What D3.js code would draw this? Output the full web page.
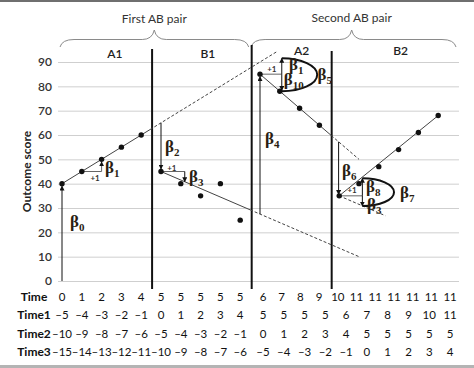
<!DOCTYPE html>
<html>
<head>
<meta charset="utf-8">
<script src="https://cdn.jsdelivr.net/npm/d3@7"></script>
<style>
  body { margin: 0; background: #fff; }
  text { font-family: Lato, "Open Sans", sans-serif; }
  .beta { font-family: "Liberation Serif", serif; font-weight: bold; fill: #2a1d12; }
</style>
</head>
<body>
<svg id="canvas"></svg>
<script>
const WIDTH = 474;
const HEIGHT = 368;

// data
const yTicks = [0, 10, 20, 30, 40, 50, 60, 70, 80, 90];
const pairLabels = ["First AB pair", "Second AB pair"];
const phaseLabels = ["A1", "B1", "A2", "B2"];
const a1Values = [40, 45, 50, 55, 60]; // obs 0-4
const b1Values = [45, 40, 35, 40, 25]; // obs 5-9
const a2Values = [85, 78, 71, 64]; // obs 10-13
const b2Values = [35, 40, 47, 54, 61, 68]; // obs 14-19
const timeRow = [0, 1, 2, 3, 4, 5, 5, 5, 5, 5, 6, 7, 8, 9, 10, 11, 11, 11, 11, 11, 11];
const time1Row = [-5, -4, -3, -2, -1, 0, 1, 2, 3, 4, 5, 5, 5, 5, 6, 7, 8, 9, 10, 11];
const time2Row = [-10, -9, -8, -7, -6, -5, -4, -3, -2, -1, 0, 1, 2, 3, 4, 5, 5, 5, 5, 5];
const time3Row = [-15, -14, -13, -12, -11, -10, -9, -8, -7, -6, -5, -4, -3, -2, -1, 0, 1, 2, 3, 4];
const rowNames = ["Time", "Time1", "Time2", "Time3"];

const canvas = d3.select("#canvas").attr("width", WIDTH).attr("height", HEIGHT);

const x = d3.scaleLinear().domain([0, 19]).range([62, 438.2]);
const y = d3.scaleLinear().domain([0, 90]).range([281, 62]);

canvas.append("defs").append("marker")
  .attr("id", "ah")
  .attr("viewBox", "0 0 10 10")
  .attr("refX", 9).attr("refY", 5)
  .attr("markerWidth", 5).attr("markerHeight", 5)
  .attr("orient", "auto-start-reverse")
  .append("path").attr("d", "M0,0L10,5L0,10z").attr("fill", "#111");

// frame bars
canvas.append("rect").attr("x", 0).attr("y", 0).attr("width", WIDTH).attr("height", 2).attr("fill", "#6f6f6f");
canvas.append("rect").attr("x", 0).attr("y", 365).attr("width", WIDTH).attr("height", 3).attr("fill", "#b4b4b4");

// y axis + grid
const yAxis = d3.axisLeft(y).tickValues(yTicks).tickSize(-(x(20.05) - x(-0.2))).tickPadding(6);
const gy = canvas.append("g").attr("transform", "translate(" + x(-0.2) + ",0)").call(yAxis);
gy.select(".domain").remove();
gy.selectAll(".tick line").attr("stroke", "#cfcfcf");
gy.selectAll(".tick text").attr("font-size", 12).attr("fill", "#333").attr("font-weight", 600);

canvas.append("text")
  .attr("transform", "translate(31," + y(45) + ") rotate(-90)")
  .attr("text-anchor", "middle")
  .attr("font-size", 12).attr("font-weight", "bold").attr("fill", "#222")
  .text("Outcome score");

// braces
const brace = (x0, x1, mid) =>
  `M${x0},47 Q${x0 + 2},39.5 ${x0 + 14},39.5 L${mid - 12},39.5 Q${mid - 2},39.5 ${mid},30 Q${mid + 2},39.5 ${mid + 12},39.5 L${x1 - 14},39.5 Q${x1 - 2},39.5 ${x1},47`;
const braceSpans = [[-0.1, 9.43, 4.66], [9.55, 19.9, 14.63]];
canvas.selectAll(".brace").data(braceSpans).enter().append("path")
  .attr("d", (d) => brace(x(d[0]), x(d[1]), x(d[2])))
  .attr("fill", "none").attr("stroke", "#8a8a8a").attr("stroke-width", 1);
canvas.selectAll(".pair").data(pairLabels).enter().append("text")
  .attr("x", (d, i) => x(braceSpans[i][2]))
  .attr("y", (d, i) => 23 - i)
  .attr("text-anchor", "middle").attr("font-size", 12).attr("fill", "#333")
  .text((d) => d);

// phase labels and separators
const phaseAt = [2.67, 7.37, 12.1, 17.1];
canvas.selectAll(".phase").data(phaseLabels).enter().append("text")
  .attr("x", (d, i) => x(phaseAt[i]))
  .attr("y", (d, i) => (i < 2 ? 58 : 55))
  .attr("text-anchor", "middle").attr("font-size", 12).attr("font-weight", 600).attr("fill", "#222")
  .text((d) => d);
const seps = [[4.55, 49], [9.58, 45], [13.62, 51]];
canvas.selectAll(".sep").data(seps).enter().append("line")
  .attr("x1", (d) => x(d[0])).attr("x2", (d) => x(d[0]))
  .attr("y1", (d) => d[1]).attr("y2", 289)
  .attr("stroke", "#111").attr("stroke-width", 2);

// helpers
const seg = (c0, v0, c1, v1, opts = {}) => {
  const l = canvas.append("line")
    .attr("x1", x(c0)).attr("y1", y(v0)).attr("x2", x(c1)).attr("y2", y(v1))
    .attr("stroke", opts.color || "#444").attr("stroke-width", opts.w || 1);
  if (opts.dash) l.attr("stroke-dasharray", "3,2");
  if (opts.arrow) l.attr("marker-end", "url(#ah)");
  return l;
};
const fit = (c0, v0, slope) => (c) => v0 + slope * (c - c0);
const fA1 = fit(0, 40, 5);
const fB1 = fit(5, 45, -3.5);
const fA2 = fit(10, 85, -7);
const fB2 = fit(14, 35, 6.6);

// trend lines
seg(0, fA1(0), 4.45, fA1(4.45));
seg(4.45, fA1(4.45), 10.85, fA1(10.85), { dash: true });
seg(5, fB1(5), 9.5, fB1(9.5));
seg(9.5, fB1(9.5), 15, fB1(15), { dash: true });
seg(10, fA2(10), 13.6, fA2(13.6));
seg(13.6, fA2(13.6), 15, fA2(15), { dash: true });
seg(14, fB2(14), 19, fB2(19));
seg(14, 35, 16.33, 35 - 3.5 * 2.33, { dash: true });

// arrows for level changes
seg(0, 0, 0, 39, { color: "#111", arrow: true });
seg(5, fA1(5), 5, 46, { color: "#111", arrow: true });
seg(10, fB1(10), 10, 84, { color: "#111", arrow: true });
seg(13.97, fA2(13.97), 13.97, 35.5, { color: "#111", arrow: true });

// slope triangles
seg(1, 45, 2, 45, { color: "#666" });
seg(2, 45, 2, 49, { color: "#666", arrow: true });
seg(5, 45, 6.2, 45, { color: "#666" });
seg(6.2, 45, 6.2, fB1(6.2), { color: "#111", arrow: true });
seg(10, 85, 11.1, 85, { color: "#666" });
seg(11.1, 85, 11.1, 91.5, { color: "#111", arrow: true });
seg(11.1, 85, 11.1, 78.3, { color: "#111", arrow: true });
seg(14, 35, 15.17, 35, { color: "#666" });
seg(15.17, 35, 15.17, 42.2, { color: "#111", arrow: true });
seg(15.17, 35, 15.17, 30.8, { color: "#111", arrow: true });

// slope-change arcs
const arc = (c, vTop, vBot, cRight) => {
  const cx = x(c), top = y(vTop), bot = y(vBot);
  const ry = (bot - top) / 2, rx = x(cRight) - cx;
  return `M${cx},${top} A${rx},${ry} 0 0 1 ${cx},${bot}`;
};
[[11.1, 91.5, 78, 12.89], [15.17, 42.2, 30.8, 16.77]].forEach((d) => {
  canvas.append("path").attr("d", arc(...d))
    .attr("fill", "none").attr("stroke", "#111").attr("stroke-width", 2);
});

// dots
const dots = [
  ...a1Values.map((v, i) => [i, v]),
  ...b1Values.map((v, i) => [5 + i, v]),
  ...a2Values.map((v, i) => [10 + i, v]),
  ...b2Values.map((v, i) => [14 + i, v]),
];
canvas.selectAll(".dot").data(dots).enter().append("circle")
  .attr("cx", (d) => x(d[0])).attr("cy", (d) => y(d[1])).attr("r", 2.7).attr("fill", "#111");

// +1 labels
const plusOnes = [[1.67, 42.3], [5.55, 46.6], [10.6, 87.1], [14.65, 37.4]];
canvas.selectAll(".plus").data(plusOnes).enter().append("text")
  .attr("x", (d) => x(d[0])).attr("y", (d) => y(d[1]) + 3)
  .attr("text-anchor", "middle").attr("font-size", 8).attr("font-weight", "bold").attr("fill", "#333")
  .text("+1");

// beta labels
const betas = [
  ["0", 0.4, 22], ["1", 2.17, 44.5], ["2", 5.2, 53], ["3", 6.41, 40.7],
  ["4", 10.25, 56.3], ["1", 11.46, 86.7], ["10", 11.2, 80.6], ["5", 12.9, 82.6],
  ["6", 14.14, 43.2], ["8", 15.35, 36.6], ["3", 15.4, 29.2], ["7", 17.07, 34.1],
];
const bt = canvas.selectAll(".beta").data(betas).enter().append("text")
  .attr("class", "beta")
  .attr("x", (d) => x(d[1])).attr("y", (d) => y(d[2]))
  .attr("font-size", 17);
bt.append("tspan").text("\u03b2");
bt.append("tspan").attr("dy", 4).attr("font-size", 11).text((d) => d[0]);

// time table
const fmt = (v) => (v < 0 ? "\u2013" + Math.abs(v) : String(v));
const rows = [timeRow, time1Row, time2Row, time3Row];
const rowY = [301, 319, 338, 356];
rows.forEach((row, r) => {
  canvas.append("text")
    .attr("x", 34).attr("y", rowY[r])
    .attr("text-anchor", "middle").attr("font-size", 12).attr("font-weight", "bold").attr("fill", "#111")
    .text(rowNames[r]);
  const right = row.slice(10);
  const px = d3.scalePoint().domain(d3.range(right.length)).range([x(10.15), x(19.6)]);
  canvas.selectAll(".r" + r).data(row).enter().append("text")
    .attr("x", (d, i) => (i < 10 ? x(i) : px(i - 10)))
    .attr("y", rowY[r])
    .attr("text-anchor", "middle").attr("font-size", 11.5).attr("fill", "#111")
    .text((d) => fmt(d));
});
</script>
</body>
</html>
